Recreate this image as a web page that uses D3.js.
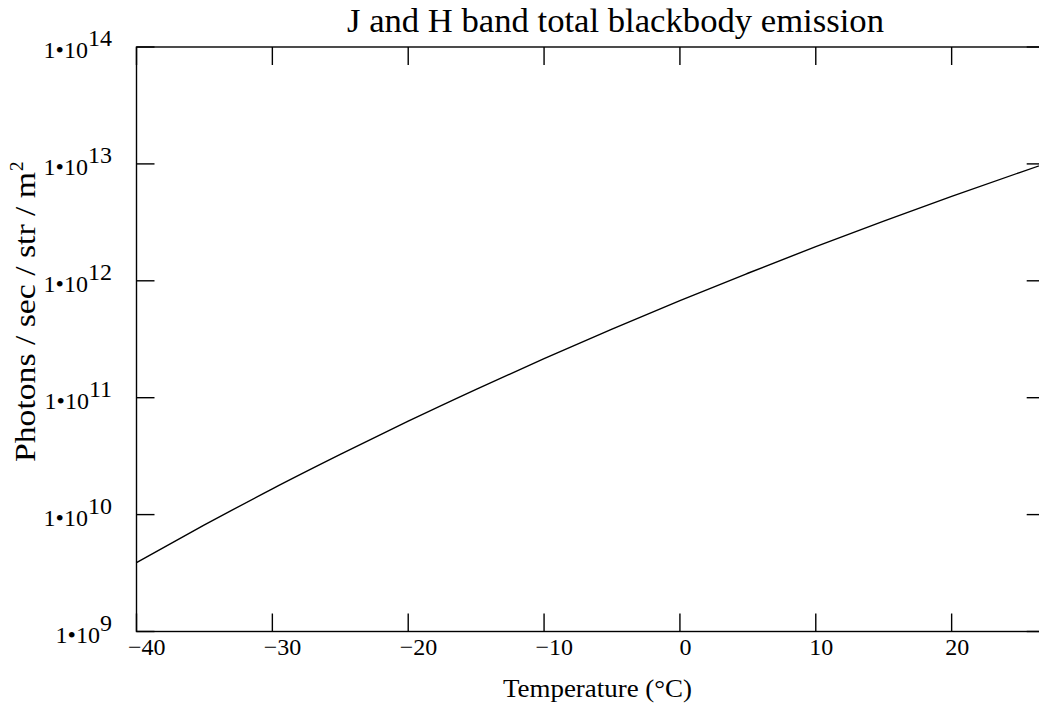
<!DOCTYPE html>
<html>
<head>
<meta charset="utf-8">
<script src="https://cdn.jsdelivr.net/npm/d3@7"></script>
<style>
  html, body { margin: 0; padding: 0; background: #fff; }
  svg { display: block; }
  text { font-family: "Liberation Serif", "DejaVu Serif", serif; fill: #000; }
</style>
</head>
<body>
<svg id="chart" width="1039" height="708"></svg>
<script>
// Temperature samples (°C) and total J+H band photon emission
const temperatures = [-40, -35, -30, -25, -20, -15, -10, -5, 0, 5, 10, 15, 20, 25, 26.85];
const emission = [3.89e9, 8.15e9, 1.66e10, 3.27e10, 6.30e10, 1.18e11, 2.16e11, 3.86e11,
                  6.78e11, 1.16e12, 1.96e12, 3.24e12, 5.27e12, 8.43e12, 1.0e13];

const xTicks = [-40, -30, -20, -10, 0, 10, 20];
const yTickExponents = [9, 10, 11, 12, 13, 14];

const titleText = "J and H band total blackbody emission";
const xLabel = "Temperature (°C)";
const yLabel = "Photons / sec / str / m";
const yLabelSup = "2";

const svg = d3.select("#chart");
const plotLeft = 136.5, plotRight = 1044.7, plotTop = 47, plotBottom = 631.5;
const tickLen = 18;

const x = d3.scaleLinear().domain([-40, 26.85]).range([plotLeft, plotRight]);
const y = d3.scaleLog().domain([1e9, 1e14]).range([plotBottom, plotTop]);

// frame
const frame = svg.append("g").attr("stroke", "#000").attr("stroke-width", 1.4).attr("fill", "none");
frame.append("rect").attr("x", plotLeft).attr("y", plotTop)
  .attr("width", plotRight - plotLeft).attr("height", plotBottom - plotTop);

// inward ticks on all four sides
xTicks.forEach(t => {
  frame.append("line").attr("x1", x(t)).attr("x2", x(t)).attr("y1", plotBottom).attr("y2", plotBottom - tickLen);
  frame.append("line").attr("x1", x(t)).attr("x2", x(t)).attr("y1", plotTop).attr("y2", plotTop + tickLen);
});
yTickExponents.forEach(e => {
  const v = Math.pow(10, e);
  frame.append("line").attr("x1", plotLeft).attr("x2", plotLeft + tickLen).attr("y1", y(v)).attr("y2", y(v));
  frame.append("line").attr("x1", plotRight).attr("x2", plotRight - tickLen).attr("y1", y(v)).attr("y2", y(v));
});

// x tick labels (digits sit just right of the tick, minus sign hangs before them)
const fmtX = d => d < 0 ? "\u2212" + Math.abs(d) : String(d);
svg.append("g").selectAll("text").data(xTicks).join("text")
  .attr("x", d => d < 0 ? x(d) + 29 : x(d) + 5.5)
  .attr("y", 655)
  .attr("text-anchor", d => d < 0 ? "end" : "middle")
  .attr("font-size", 24)
  .text(fmtX);

// y tick labels: 1•10^n
const yl = svg.append("g").selectAll("text").data(yTickExponents).join("text")
  .attr("x", 112)
  .attr("y", d => y(Math.pow(10, d)) + 11)
  .attr("text-anchor", "end")
  .attr("font-size", 24);
yl.append("tspan").text("1\u202210");
yl.append("tspan").attr("dy", -12).text(d => d);

// curve
const line = d3.line()
  .x((d, i) => x(temperatures[i]))
  .y(d => y(d))
  .curve(d3.curveMonotoneX);
svg.append("path")
  .datum(emission)
  .attr("d", line)
  .attr("fill", "none")
  .attr("stroke", "#000")
  .attr("stroke-width", 1.4);

// title and axis labels
svg.append("text").attr("x", 347).attr("y", 32)
  .attr("font-size", 33).attr("textLength", 537).attr("lengthAdjust", "spacingAndGlyphs")
  .text(titleText);
svg.append("text").attr("x", 503).attr("y", 697)
  .attr("font-size", 25).attr("textLength", 189).attr("lengthAdjust", "spacingAndGlyphs")
  .text(xLabel);
svg.append("text")
  .attr("transform", "translate(35,462) rotate(-90)")
  .attr("font-size", 29).attr("textLength", 290).attr("lengthAdjust", "spacingAndGlyphs")
  .text(yLabel);
svg.append("text")
  .attr("transform", "translate(23,171) rotate(-90)")
  .attr("font-size", 19)
  .text(yLabelSup);
</script>
</body>
</html>
